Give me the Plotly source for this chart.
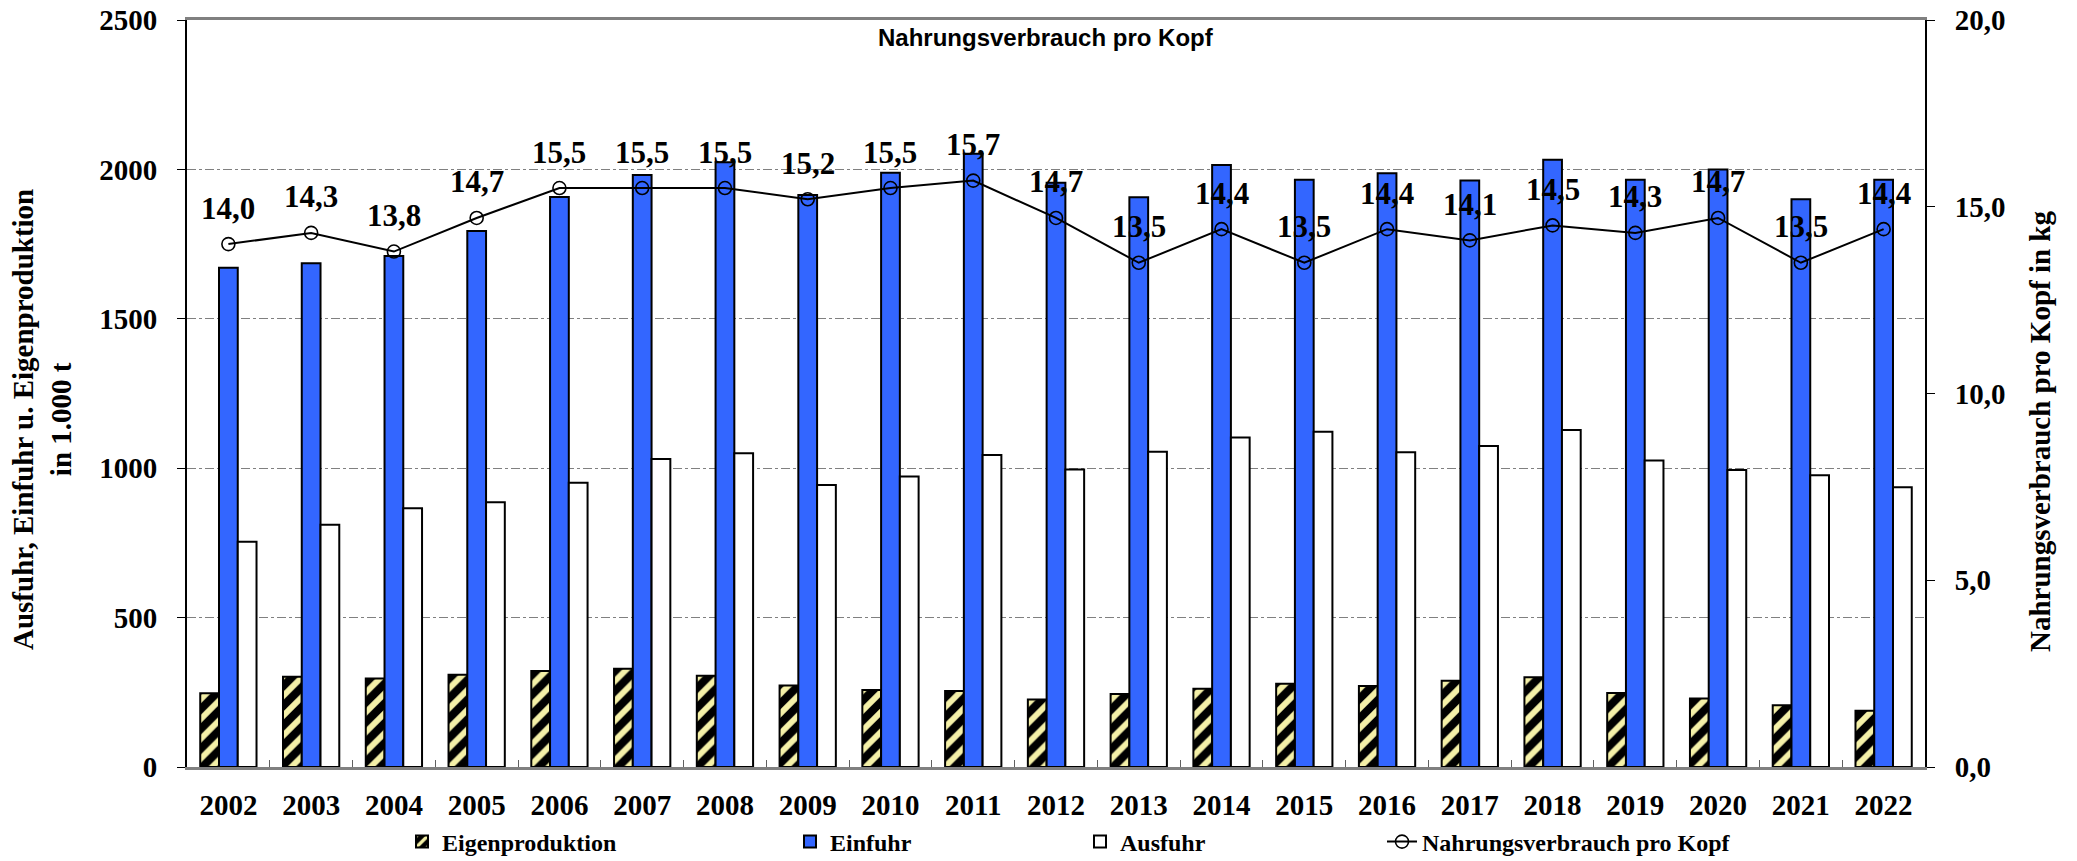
import plotly.graph_objects as go

years = [str(y) for y in range(2002, 2023)]
eigenproduktion = [247, 302, 296, 309, 321, 329, 305, 273, 258, 254, 226, 244, 262, 279, 271, 289, 300, 248, 229, 207, 188]
einfuhr = [1671, 1686, 1710, 1794, 1908, 1981, 2024, 1914, 1989, 2052, 1955, 1907, 2015, 1965, 1987, 1963, 2032, 1965, 2000, 1900, 1965]
ausfuhr = [754, 811, 866, 886, 951, 1031, 1050, 944, 972, 1044, 996, 1055, 1103, 1122, 1053, 1074, 1128, 1026, 994, 976, 936]
verbrauch = [14.0, 14.3, 13.8, 14.7, 15.5, 15.5, 15.5, 15.2, 15.5, 15.7, 14.7, 13.5, 14.4, 13.5, 14.4, 14.1, 14.5, 14.3, 14.7, 13.5, 14.4]

W, H = 2077, 861
ML, MR, MT, MB = 187, 152, 20, 94
PW = W - ML - MR
PH = H - MT - MB

SERIF = "Times New Roman, Liberation Serif, serif"
SANS = "Arial, Liberation Sans, sans-serif"


def px_x(px):
    return (px - ML) / PW


def px_y(py):
    return (H - MB - py) / PH


fig = go.Figure()

fig.add_trace(go.Bar(
    x=years, y=eigenproduktion, name="Eigenproduktion",
    marker=dict(color="black", line=dict(color="black", width=2),
                pattern=dict(shape="/", fgcolor="#f4f0a8", bgcolor="black",
                             size=14, solidity=0.42, fillmode="replace")),
    legend="legend",
))
fig.add_trace(go.Bar(
    x=years, y=einfuhr, name="Einfuhr",
    marker=dict(color="#3366ff", line=dict(color="black", width=2)),
    legend="legend2",
))
fig.add_trace(go.Bar(
    x=years, y=ausfuhr, name="Ausfuhr",
    marker=dict(color="white", line=dict(color="black", width=2)),
    legend="legend3",
))
fig.add_trace(go.Scatter(
    x=years, y=verbrauch, name="Nahrungsverbrauch pro Kopf", yaxis="y2",
    mode="lines+markers",
    line=dict(color="black", width=2),
    marker=dict(symbol="circle-open", size=13, color="black", line=dict(width=1.6)),
    legend="legend4",
))

annotations = []
for i, v in enumerate(verbrauch):
    annotations.append(dict(
        x=i, y=v, xref="x", yref="y2", text=f"{v:.1f}".replace(".", ","),
        showarrow=False, yshift=36, yanchor="middle", xanchor="center",
        font=dict(family=SERIF, size=31, color="black", weight="bold"),
    ))

annotations.append(dict(
    x=px_x(1046), y=px_y(38), xref="paper", yref="paper",
    text="Nahrungsverbrauch pro Kopf", showarrow=False,
    xanchor="center", yanchor="middle",
    font=dict(family=SANS, size=24, color="black", weight="bold"),
))
annotations.append(dict(
    x=px_x(42), y=px_y(420), xref="paper", yref="paper",
    text="Ausfuhr, Einfuhr u. Eigenproduktion<br>in 1.000 t", showarrow=False,
    textangle=-90, xanchor="center", yanchor="middle",
    font=dict(family=SERIF, size=29, color="black", weight="bold"),
))
annotations.append(dict(
    x=px_x(2040), y=px_y(432), xref="paper", yref="paper",
    text="Nahrungsverbrauch pro Kopf in kg", showarrow=False,
    textangle=-90, xanchor="center", yanchor="middle",
    font=dict(family=SERIF, size=29, color="black", weight="bold"),
))

legend_font = dict(family=SERIF, size=24, color="black", weight="bold")
legend_common = dict(orientation="h", yanchor="middle", xanchor="left",
                     bgcolor="rgba(0,0,0,0)", font=legend_font, y=px_y(842))

fig.update_layout(
    width=W, height=H,
    margin=dict(l=ML, r=MR, t=MT, b=MB, autoexpand=False),
    paper_bgcolor="white", plot_bgcolor="white",
    barmode="group", bargap=0.32, bargroupgap=0,
    separators=",.",
    showlegend=True,
    legend=dict(x=px_x(402), **legend_common),
    legend2=dict(x=px_x(790), **legend_common),
    legend3=dict(x=px_x(1080), **legend_common),
    legend4=dict(x=px_x(1382), **legend_common),
    annotations=annotations,
    xaxis=dict(
        type="category", categoryorder="array", categoryarray=years,
        range=[-0.5, len(years) - 0.5], autorange=False,
        showline=True, linecolor="#808080", linewidth=3, mirror=True,
        ticks="inside", tickson="boundaries", ticklen=7, tickcolor="#606060", tickwidth=1,
        showgrid=False, ticklabelstandoff=10, tickangle=0,
        tickfont=dict(family=SERIF, size=29, color="black", weight="bold"),
    ),
    yaxis=dict(
        range=[0, 2500], dtick=500, showline=True, linecolor="black", linewidth=2,
        ticks="outside", ticklen=8, tickcolor="black", tickwidth=1,
        showgrid=True, gridcolor="#808080", gridwidth=1, griddash="dashdot",
        zeroline=False, ticklabelstandoff=14,
        tickfont=dict(family=SERIF, size=29, color="black", weight="bold"),
    ),
    yaxis2=dict(
        range=[0, 20], dtick=5, tickformat=".1f", overlaying="y", side="right",
        showline=True, linecolor="black", linewidth=2,
        ticks="outside", ticklen=8, tickcolor="black", tickwidth=1,
        showgrid=False, zeroline=False, ticklabelstandoff=14,
        tickfont=dict(family=SERIF, size=29, color="black", weight="bold"),
    ),
)

fig.write_html("out.html", config={"displayModeBar": False},
               post_script="document.body.style.margin='0px';document.body.style.overflow='hidden';")
